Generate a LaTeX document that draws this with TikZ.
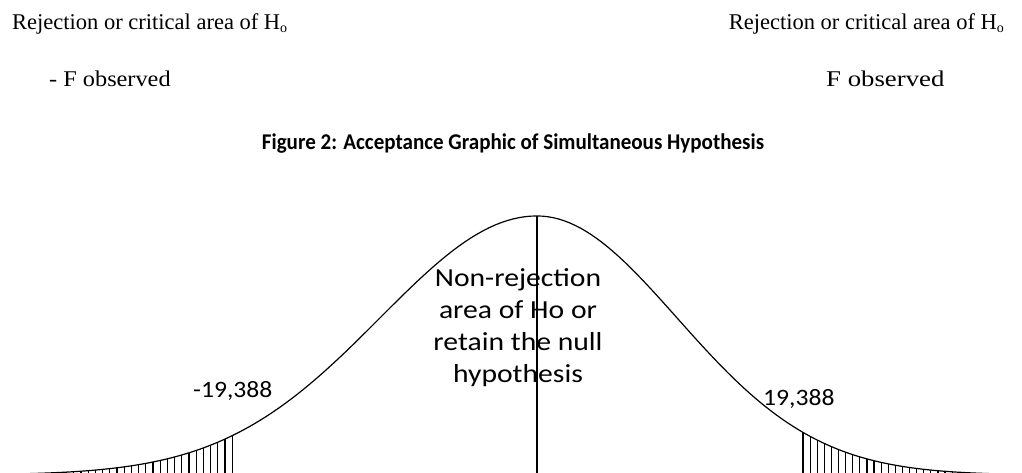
\documentclass[tikz,border=0pt]{standalone}
\usepackage{fontspec}
\usepackage{graphicx}
\setmainfont{Liberation Serif}
\newfontfamily\carlitofont{Carlito}
\begin{document}
\begin{tikzpicture}[x=1pt,y=-1pt,
  curveline/.style={line width=1.2pt, black},
  hatch/.style={line width=1.2pt, black},
  toptext/.style={font=\fontsize{22.5}{26}\selectfont, inner sep=0pt},
  numtext/.style={font=\carlitofont\fontsize{23.5}{28}\selectfont, inner sep=0pt},
  midtext/.style={font=\carlitofont\fontsize{26}{32}\selectfont, inner sep=0pt}]
\useasboundingbox (0,0) rectangle (1022,473);
\node[toptext, anchor=base west] (rl) at (12,30) {Rejection or critical area of H\raisebox{-0.25ex}{\fontsize{14}{14}\selectfont o}};
\node[toptext, anchor=base east] (rr) at (1004,30) {Rejection or critical area of H\raisebox{-0.25ex}{\fontsize{14}{14}\selectfont o}};
\node[toptext, anchor=base west] (fl) at (49,87) {\scalebox{1.08}[1]{- F observed}};
\node[toptext, anchor=base west] (fr) at (826,87) {\scalebox{1.19}[1]{F observed}};
\node[font=\carlitofont\bfseries\fontsize{22.5}{26}\selectfont, anchor=base, inner sep=0pt] (title) at (513,150) {\scalebox{0.935}[1]{Figure 2: Acceptance Graphic of Simultaneous Hypothesis}};
% curve
\draw[curveline] plot[domain=-3.4:0, samples=90] ({537+157*\x},{475-259*exp(-\x*\x/2)})
                 -- plot[domain=0:3.47, samples=90] ({537+140*\x},{475-259*exp(-\x*\x/2)});
\coordinate (peak) at (537,216);
\coordinate (base) at (537,473);
\draw[curveline] (peak) -- (base);
% hatching
\foreach \i in {0,...,26}{
  \pgfmathsetmacro\xx{45+\i*7.2}
  \pgfmathsetmacro\yy{475-259*exp(-((\xx-537)/157)^2/2)}
  \draw[hatch] (\xx,\yy) -- (\xx,473);
}
\foreach \i in {0,...,22}{
  \pgfmathsetmacro\xx{803+\i*7.1}
  \pgfmathsetmacro\yy{475-259*exp(-((\xx-537)/140)^2/2)}
  \draw[hatch] (\xx,\yy) -- (\xx,473);
}
\node[numtext, anchor=base west] (nl) at (193,397) {\scalebox{1.09}[1]{-19,388}};
\node[numtext, anchor=base west] (nr) at (763,405) {\scalebox{1.09}[1]{19,388}};
\node[midtext] (mid) at (518,328) {\scalebox{1.14}[1]{\begin{tabular}{@{}c@{}}Non-rejection\\area of Ho or\\retain the null\\hypothesis\end{tabular}}};
\end{tikzpicture}
\end{document}
